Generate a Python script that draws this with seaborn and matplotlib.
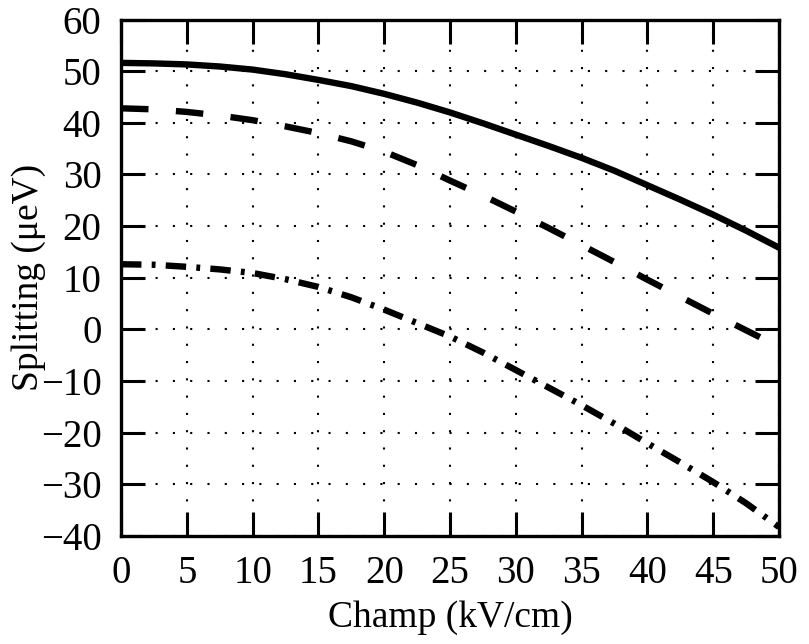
import numpy as np
import pandas as pd
import matplotlib
matplotlib.use("Agg")
import matplotlib.pyplot as plt
import seaborn as sns

# valeurs
champ = [0, 2.5, 5, 7.5, 10, 12.5, 15, 17.5, 20, 22.5, 25,
         27.5, 30, 32.5, 35, 37.5, 40, 42.5, 45, 47.5, 50]
splitting_a = [51.6, 51.5, 51.3, 50.9, 50.3, 49.4, 48.3, 47.1, 45.6, 43.9, 42.0,
               39.9, 37.7, 35.5, 33.2, 30.7, 27.9, 25.1, 22.2, 19.1, 15.8]
splitting_b = [42.8, 42.6, 42.1, 41.4, 40.5, 39.3, 38.0, 36.4, 34.4, 31.8, 28.8,
               25.9, 22.8, 19.6, 16.3, 13.0, 9.6, 6.3, 3.0, -0.2, -3.4]
splitting_c = [12.6, 12.5, 12.1, 11.6, 10.9, 9.7, 8.2, 6.2, 3.8, 1.2, -1.4,
               -4.5, -7.9, -11.3, -14.7, -18.3, -22.1, -25.8, -29.6, -33.7, -38.3]

n = len(champ)
df = pd.DataFrame({
    "champ": champ * 3,
    "splitting": splitting_a + splitting_b + splitting_c,
    "courbe": ["a"] * n + ["b"] * n + ["c"] * n,
})

sns.set_theme(style="ticks")
plt.rcParams["font.family"] = ["Liberation Serif", "DejaVu Serif"]
plt.rcParams["text.color"] = "black"
plt.rcParams["axes.labelcolor"] = "black"

fig = plt.figure(figsize=(8.09, 6.44), dpi=100)
ax = fig.add_axes([0.1496, 0.168, 0.8134, 0.8017])

sns.lineplot(
    data=df, x="champ", y="splitting", style="courbe",
    dashes={"a": "", "b": (4.3, 4.3), "c": (3.2, 1.6, 0.6, 1.6)},
    color="black", linewidth=4.6, legend=False, ax=ax, zorder=3,
)

ax.set_xlim(0, 50)
ax.set_ylim(-40, 60)
ax.set_xticks(range(0, 51, 5))
ax.set_yticks(range(-40, 61, 10))
ax.grid(True, color="black", linestyle=(0, (1, 7.3)), linewidth=1.5, zorder=1)

for s in ax.spines.values():
    s.set_linewidth(2.4)
    s.set_color("black")

ax.tick_params(direction="in", length=17, width=2.2, top=True, right=True,
               labelsize=28, pad=14, colors="black")

ax.set_xlabel("Champ (kV/cm)", fontsize=27, labelpad=6)
ax.set_ylabel("Splitting (μeV)", fontsize=27, labelpad=-4)

fig.savefig("out.png", dpi=100)
